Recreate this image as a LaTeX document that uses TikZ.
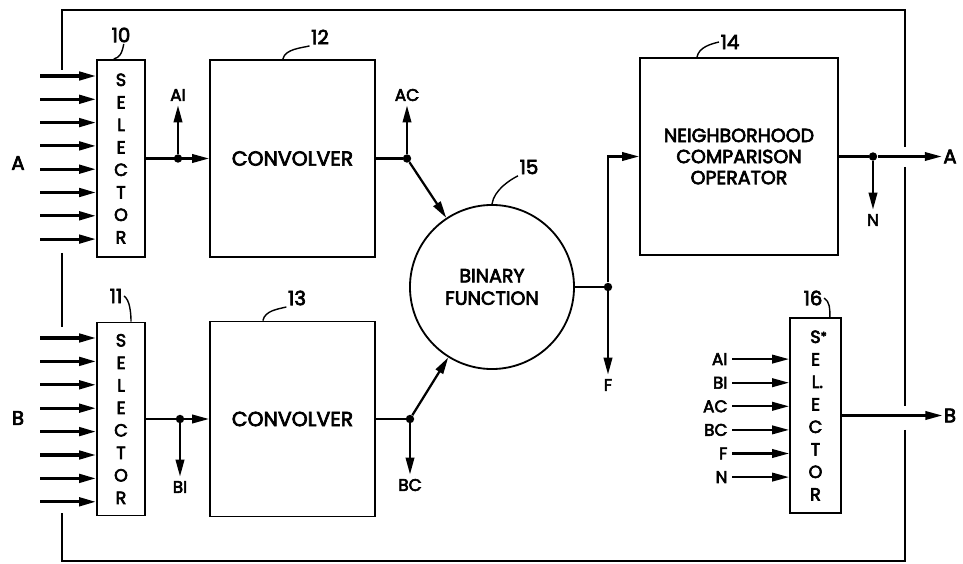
\documentclass[tikz,border=0pt]{standalone}
\usepackage{fontspec}
\setmainfont{Poppins}[BoldFont=Poppins, BoldFeatures={FakeBold=3.5}]
\usetikzlibrary{arrows.meta, positioning, calc}
\tikzset{
  frame/.style={line width=1.3pt},
  selbox/.style={draw, line width=1.3pt, minimum width=#1, inner sep=0pt,
                 align=center, font=\fontsize{12.5}{16}\selectfont\bfseries},
  blk/.style={draw, line width=1.3pt, minimum width=4.125cm, minimum height=#1,
              align=center, font=\fontsize{14.5}{15}\selectfont\bfseries},
  arr/.style={-{Triangle[length=12pt, width=6pt]}, line width=1.6pt},
  inarr/.style={arr, line width=2.2pt},
  wire/.style={line width=1.6pt},
  dot/.style={circle, fill, inner sep=0pt, minimum size=6pt},
  sig/.style={font=\fontsize{12}{12}\selectfont\bfseries, inner sep=3pt},
  num/.style={font=\fontsize{14}{14}\selectfont\bfseries, inner sep=1pt},
  lead/.style={line width=1pt},
}

\begin{document}
\begin{tikzpicture}[x=0.025cm, y=-0.025cm]
  \useasboundingbox (0,0) rectangle (963,564);

  % outer frame
  \draw[frame] (62,70) -- (62,10) -- (905,10) -- (905,147);
  \draw[frame] (905,167) -- (905,406);
  \draw[frame] (905,430) -- (905,561) -- (62,561) -- (62,513);
  \draw[frame] (62,253) -- (62,327);

  % blocks
  \node[selbox=1.2cm, minimum height=4.925cm] (selA) at (121,158.5)
    {S\\E\\L\\E\\C\\T\\O\\R};
  \node[selbox=1.2cm, minimum height=4.825cm] (selB) at (121,419)
    {S\\E\\L\\E\\C\\T\\O\\R};
  \node[blk=4.925cm] (convA) at (292.5,158.5) {CONVOLVER};
  \node[blk=4.875cm] (convB) at (292.5,419) {CONVOLVER};
  \node[circle, draw, line width=1.3pt, minimum size=4.1cm, align=center,
        font=\fontsize{13.5}{16}\selectfont\bfseries] (bin) at (492,287) {BINARY\\FUNCTION};
  \node[blk=4.925cm, minimum width=4.95cm, font=\fontsize{13.5}{15}\selectfont\bfseries]
    (nco) at (739,156.5) {NEIGHBORHOOD\\COMPARISON\\OPERATOR};
  \node[selbox=1.275cm, minimum height=4.875cm] (selS) at (815.5,415.5)
    {S\rlap{\raisebox{0.2ex}{\small*}}\\E\\L\rlap{.}\\E\\C\\T\\O\\R};

  % reference numbers
  \node[num] (n10) at (121,35) {10};
  \node[num] (n11) at (116,296) {11};
  \node[num] (n12) at (320,37) {12};
  \node[num] (n13) at (297,298) {13};
  \node[num] (n14) at (730,42) {14};
  \node[num] (n15) at (529,167) {15};
  \node[num] (n16) at (813,298) {16};
  \draw[lead] ([xshift=2pt]n10.south) .. controls +(-0.05cm,-0.25cm) and +(0.15cm,0.05cm) .. ([xshift=-0.18cm]selA.north);
  \draw[lead] (n11.east) .. controls +(0.15cm,-0.1cm) and +(0,0.2cm) .. ([xshift=0.25cm]selB.north);
  \draw[lead] ([xshift=-0.24cm]convA.north) .. controls +(0.05cm,0.25cm) and +(-0.2cm,-0.05cm) .. (n12.south west);
  \draw[lead] ([xshift=-0.74cm]convB.north) .. controls +(0.05cm,0.25cm) and +(-0.2cm,-0.05cm) .. (n13.south west);
  \draw[lead] ([xshift=-1.05cm]nco.north) .. controls +(0.05cm,0.25cm) and +(-0.2cm,-0.05cm) .. (n14.west);
  \draw[lead] (bin.north) .. controls +(0.05cm,0.35cm) and +(-0.2cm,-0.1cm) .. (n15.south west);
  \draw[lead] (n16.east) .. controls +(0.15cm,-0.1cm) and +(0,0.2cm) .. ([xshift=0.36cm]selS.north);

  % inputs A and B
  \node[num] (inA) at (18,163) {A};
  \node[num] (inB) at (18,418) {B};
  \foreach \i in {1,...,8} {
    \coordinate (ina\i) at (40,{76+23.3*(\i-1)});
    \draw[inarr] (ina\i) -- (ina\i -| selA.west);
    \coordinate (inb\i) at (40,{338+23.4*(\i-1)});
    \draw[inarr] (inb\i) -- (inb\i -| selB.west);
  }

  % upper path
  \node[dot] (jAI) at (178,158.5) {};
  \node[sig] (lAI) at (178,95) {AI};
  \draw[arr] (selA) -- (convA);
  \draw[arr] (jAI) -- (lAI);
  \node[dot] (jAC) at (407,158.5) {};
  \node[sig] (lAC) at (407,95) {AC};
  \draw[wire] (convA) -- (jAC);
  \draw[arr] (jAC) -- (lAC);
  \draw[arr] (jAC) -- (bin);

  % lower path
  \node[dot] (jBI) at (180,419) {};
  \node[sig] (lBI) at (180,487) {BI};
  \draw[arr] (selB) -- (convB);
  \draw[arr] (jBI) -- (lBI);
  \node[dot] (jBC) at (410,419) {};
  \node[sig] (lBC) at (410,485) {BC};
  \draw[wire] (convB) -- (jBC);
  \draw[arr] (jBC) -- (lBC);
  \draw[arr] (jBC) -- (bin);

  % binary function output
  \node[dot] (jF) at (608,287) {};
  \node[sig] (lF) at (608,385) {F};
  \draw[wire] (bin) -- (jF);
  \draw[arr] (jF) |- (nco);
  \draw[arr] (jF) -- (lF);

  % outputs
  \node[dot] (jN) at (873,156.5) {};
  \node[sig] (lN) at (873,220) {N};
  \node[num] (outA) at (950,156.5) {A};
  \draw[wire] (nco) -- (jN);
  \draw[arr] (jN) -- (outA);
  \draw[arr] (jN) -- (lN);
  \node[num] (outB) at (950,415.5) {B};
  \draw[arr] (selS) -- (outB);

  \foreach \t [count=\i] in {AI,BI,AC,BC,F,N} {
    \node[sig, anchor=east] (sin\i) at (732,{335.5+23.6*\i}) {\t};
    \draw[arr] (sin\i) -- (sin\i -| selS.west);
  }
\end{tikzpicture}
\end{document}
